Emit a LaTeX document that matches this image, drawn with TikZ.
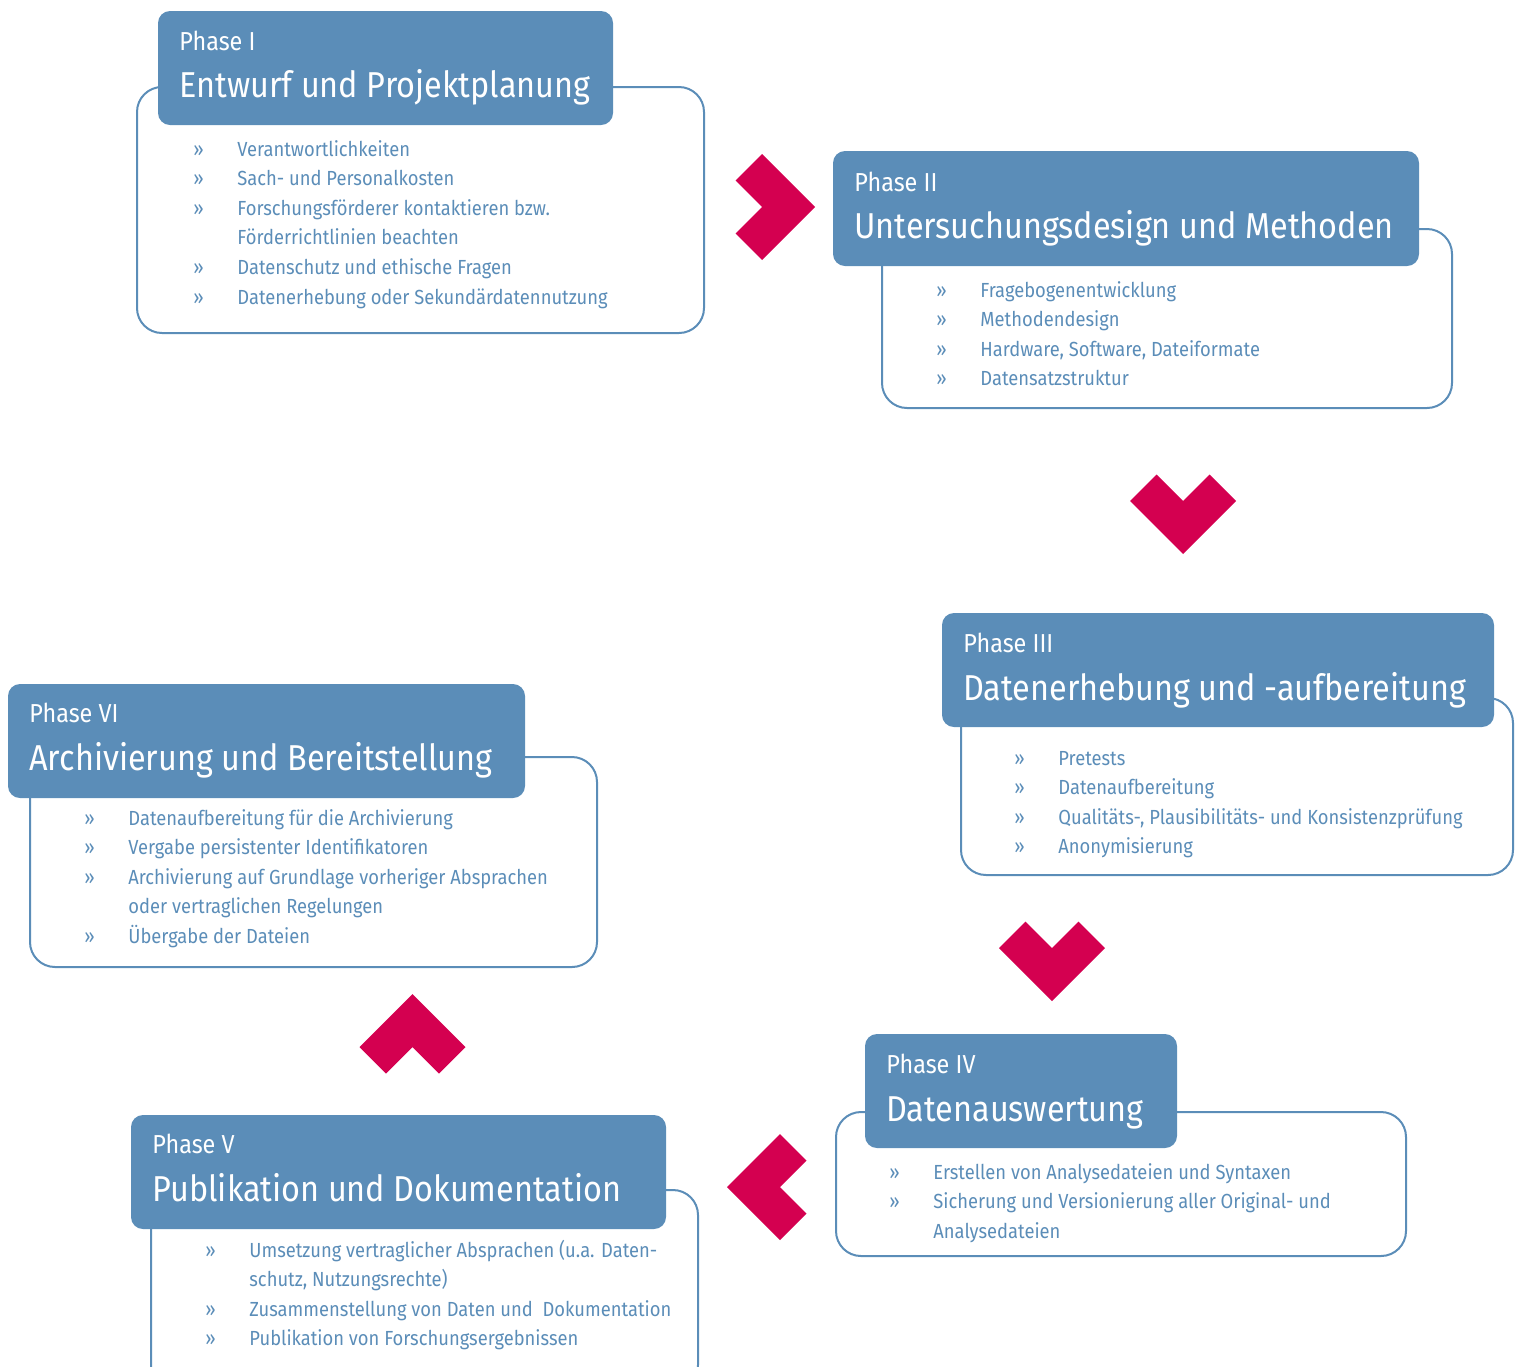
\documentclass[tikz,border=0pt]{standalone}
\usepackage{fontspec}
\setmainfont[FakeStretch=0.9]{Fira Sans}
\usetikzlibrary{fit}
\definecolor{phaseblue}{RGB}{91,141,184}
\definecolor{arrowred}{RGB}{212,0,80}
\newcommand{\itemlist}[1]{\begin{tabular}[t]{@{}p{22pt}@{}l@{}}#1\end{tabular}}

\begin{document}
\begin{tikzpicture}[x=0.5pt,y=-0.5pt,
  head node/.style={rectangle,fill=phaseblue,rounded corners=6pt,inner sep=0pt},
  body node/.style={rectangle,draw=phaseblue,line width=1pt,rounded corners=12.5pt,inner sep=0pt},
  phase node/.style={anchor=base west,inner sep=0pt,text=white,font=\fontsize{13}{15}\selectfont},
  title node/.style={anchor=base west,inner sep=0pt,text=white,font=\fontsize{18}{22}\selectfont},
  list node/.style={anchor=base west,inner sep=0pt,text=phaseblue,font=\fontsize{10.2}{14.8}\selectfont},
  chevron/.style={fill=arrowred}]

\useasboundingbox (0,0) rectangle (1518,1366);

  % Phase I
  \node[body node,fit={(137,87) (704,333)}] (11) {};
  \node[head node,fit={(158,11) (613,125)}] (10) {};
  \node[phase node] (12) at (179,50) {Phase I};
  \node[title node] (13) at (179,97) {Entwurf und Projektplanung};
  \node[list node] (14) at (193,156) {\itemlist{
    » & Verantwortlichkeiten\\
    » & Sach- und Personalkosten\\
    » & Forschungsförderer kontaktieren bzw.\\
      & Förderrichtlinien beachten\\
    » & Datenschutz und ethische Fragen\\
    » & Datenerhebung oder Sekundärdatennutzung}};

  % Phase II
  \node[body node,fit={(882,229) (1452,408)}] (21) {};
  \node[head node,fit={(833,151) (1419,266)}] (20) {};
  \node[phase node] (22) at (854,191) {Phase II};
  \node[title node] (23) at (854,238) {Untersuchungsdesign und Methoden};
  \node[list node] (24) at (936,297) {\itemlist{
    » & Fragebogenentwicklung\\
    » & Methodendesign\\
    » & Hardware, Software, Dateiformate\\
    » & Datensatzstruktur}};

  % Phase III
  \node[body node,fit={(961,698) (1513,875)}] (31) {};
  \node[head node,fit={(942,613) (1494,727)}] (30) {};
  \node[phase node] (32) at (963,652) {Phase III};
  \node[title node] (33) at (963,700) {Datenerhebung und -aufbereitung};
  \node[list node] (34) at (1014,765) {\itemlist{
    » & Pretests\\
    » & Datenaufbereitung\\
    » & Qualitäts-, Plausibilitäts- und Konsistenzprüfung\\
    » & Anonymisierung}};

  % Phase IV
  \node[body node,fit={(836,1112) (1406,1256)}] (41) {};
  \node[head node,fit={(865,1034) (1177,1148)}] (40) {};
  \node[phase node] (42) at (886,1073) {Phase IV};
  \node[title node] (43) at (886,1121) {Datenauswertung};
  \node[list node] (44) at (889,1179) {\itemlist{
    » & Erstellen von Analysedateien und Syntaxen\\
    » & Sicherung und Versionierung aller Original- und\\
      & Analysedateien}};

  % Phase V
  \node[body node,fit={(151,1190) (698,1390)}] (51) {};
  \node[head node,fit={(131,1115) (666,1229)}] (50) {};
  \node[phase node] (52) at (152,1153) {Phase V};
  \node[title node] (53) at (152,1201) {Publikation und Dokumentation};
  \node[list node] (54) at (205,1257) {\itemlist{
    » & Umsetzung vertraglicher Absprachen (u.a. Daten-\\
      & schutz, Nutzungsrechte)\\
    » & Zusammenstellung von Daten und\ \ Dokumentation\\
    » & Publikation von Forschungsergebnissen}};

  % Phase VI
  \node[body node,fit={(30,757) (597,967)}] (61) {};
  \node[head node,fit={(8,684) (525,798)}] (60) {};
  \node[phase node] (62) at (29,722) {Phase VI};
  \node[title node] (63) at (29,770) {Archivierung und Bereitstellung};
  \node[list node] (64) at (84,825) {\itemlist{
    » & Datenaufbereitung für die Archivierung\\
    » & Vergabe persistenter Identifikatoren\\
    » & Archivierung auf Grundlage vorheriger Absprachen\\
      & oder vertraglichen Regelungen\\
    » & Übergabe der Dateien}};

  % chevrons
  \fill[chevron] (815,207) -- ++(-53,-53) -- ++(-26.5,26.5) -- ++(26.5,26.5)
    -- ++(-26.5,26.5) -- ++(26.5,26.5) -- cycle;
  \fill[chevron] (1183,554) -- ++(-53,-53) -- ++(26.5,-26.5) -- ++(26.5,26.5)
    -- ++(26.5,-26.5) -- ++(26.5,26.5) -- cycle;
  \fill[chevron] (1052,1001) -- ++(-53,-53) -- ++(26.5,-26.5) -- ++(26.5,26.5)
    -- ++(26.5,-26.5) -- ++(26.5,26.5) -- cycle;
  \fill[chevron] (727,1187) -- ++(53,-53) -- ++(26.5,26.5) -- ++(-26.5,26.5)
    -- ++(26.5,26.5) -- ++(-26.5,26.5) -- cycle;
  \fill[chevron] (412.5,994) -- ++(-53,53) -- ++(26.5,26.5) -- ++(26.5,-26.5)
    -- ++(26.5,26.5) -- ++(26.5,-26.5) -- cycle;
\end{tikzpicture}
\end{document}
